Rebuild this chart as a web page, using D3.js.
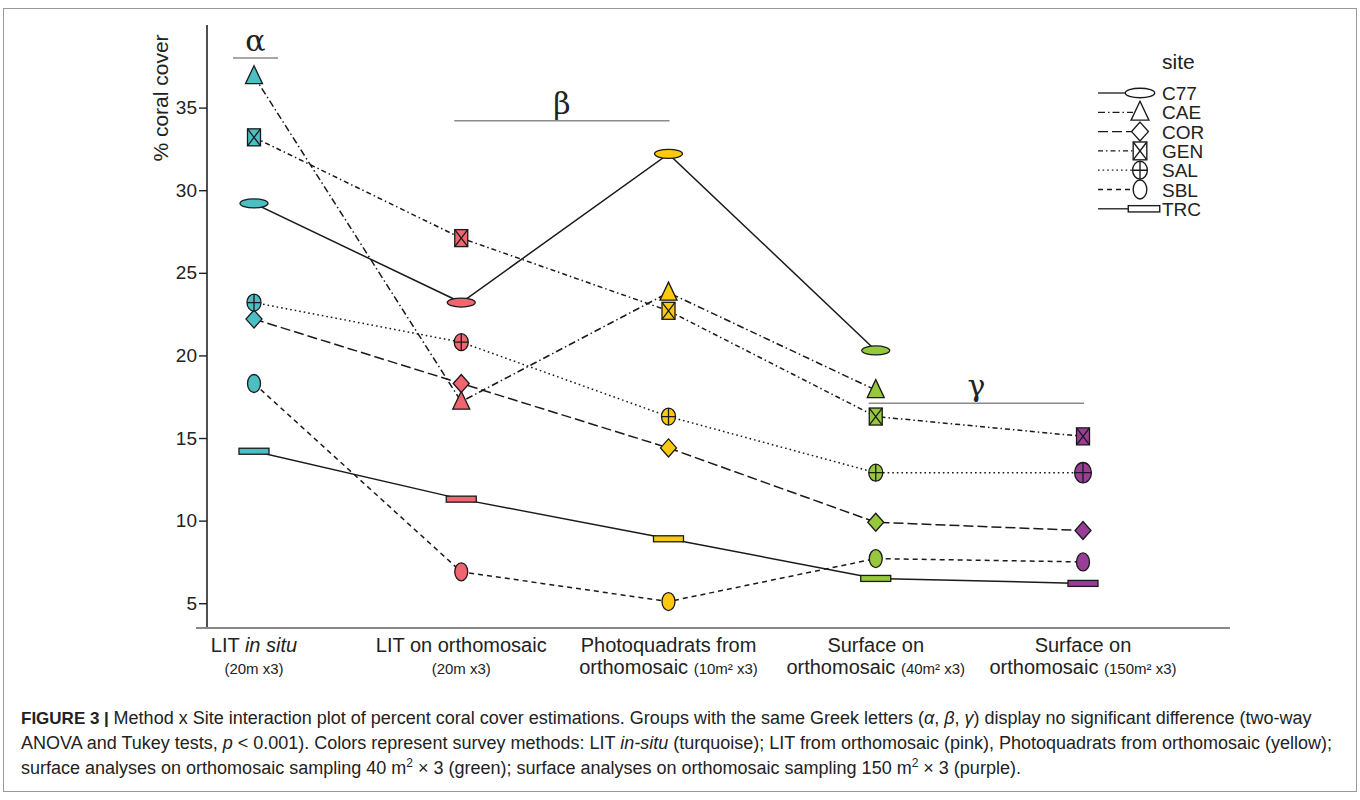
<!DOCTYPE html>
<html>
<head>
<meta charset="utf-8">
<script src="https://cdn.jsdelivr.net/npm/d3@7"></script>
<style>
  body { margin: 0; background: #fff; }
  svg text { font-family: "Liberation Sans", Arial, sans-serif; fill: #222; }
</style>
</head>
<body>
<div id="chart"></div>
<script>
// methods (x axis), in order, and their fill colours
const methods = ['LIT in situ', 'LIT on orthomosaic', 'Photoquadrats from orthomosaic',
                 'Surface on orthomosaic 40', 'Surface on orthomosaic 150'];
const methodColors = ['#4cbfc5', '#ef6670', '#fdc90f', '#96c83d', '#9a3d97'];

// % coral cover per site (null = not sampled)
const sites = ['C77', 'CAE', 'COR', 'GEN', 'SAL', 'SBL', 'TRC'];
const c77 = [29.2, 23.2, 32.2, 20.3, null];
const cae = [36.9, 17.2, 23.8, 17.9, null];
const cor = [22.2, 18.3, 14.4, 9.9, 9.4];
const gen = [33.2, 27.1, 22.7, 16.3, 15.1];
const sal = [23.2, 20.8, 16.3, 12.9, 12.9];
const sbl = [18.3, 6.9, 5.1, 7.7, 7.5];
const trc = [14.2, 11.3, 8.9, 6.5, 6.2];
const siteValues = [c77, cae, cor, gen, sal, sbl, trc];

const yTicks = [5, 10, 15, 20, 25, 30, 35];

// Tukey groups: first method, last method, letter, height of bar (% cover)
const groupFrom = [0, 1, 3];
const groupTo = [0, 2, 4];
const groupLetters = ['α', 'β', 'γ'];
const groupLevel = [38.0, 34.2, 17.1];

const W = 1360, H = 800;
const svg = d3.select('#chart').append('svg').attr('width', W).attr('height', H);

svg.append('rect').attr('x', 3.5).attr('y', 8.5).attr('width', 1353).attr('height', 783)
	.attr('fill', 'none').attr('stroke', '#9a9a9a').attr('stroke-width', 1);

const y = d3.scaleLinear().domain([3.5, 40]).range([628, 25]);
const x = d3.scalePoint().domain(methods).range([254, 1083]);

// line styles per site
const dashes = ['none', '7,3,1.5,3', '10,4', '5,3,1.5,3', '1.6,3', '5,4', 'none'];

// axes
const yAxis = svg.append('g').attr('transform', 'translate(207,0)')
	.call(d3.axisLeft(y).tickValues(yTicks).tickSize(8).tickSizeOuter(0).tickPadding(2));
yAxis.select('.domain').attr('d', `M0,25V628`).attr('stroke', '#222').attr('stroke-width', 1.6);
yAxis.selectAll('.tick line').attr('stroke', '#222').attr('stroke-width', 1.4);
yAxis.selectAll('.tick text').style('font-size', '19px').style('font-family', '"Liberation Sans", Arial, sans-serif').attr('fill', '#222');

svg.append('line').attr('x1', 196).attr('x2', 1230).attr('y1', 628).attr('y2', 628)
	.attr('stroke', '#888').attr('stroke-width', 2);

svg.append('text').attr('transform', 'translate(168,98) rotate(-90)')
	.attr('text-anchor', 'middle').style('font-size', '21px').text('% coral cover');

// category labels
const xlab = svg.append('g').style('font-size', '20px');
function catLabel(i, parts1, parts2) {
	const cx = x(methods[i]);
	const t1 = xlab.append('text').attr('x', cx).attr('y', 652).attr('text-anchor', 'middle');
	parts1.forEach(p => t1.append('tspan').text(p[0]).style('font-style', p[1] || null).style('font-size', p[2] || null));
	const t2 = xlab.append('text').attr('x', cx).attr('y', 674).attr('text-anchor', 'middle');
	parts2.forEach(p => t2.append('tspan').text(p[0]).style('font-style', p[1] || null).style('font-size', p[2] || null));
}
catLabel(0, [['LIT '], ['in situ', 'italic']], [['(20m x3)', null, '15px']]);
catLabel(1, [['LIT on orthomosaic']], [['(20m x3)', null, '15px']]);
catLabel(2, [['Photoquadrats from']], [['orthomosaic '], ['(10m² x3)', null, '15px']]);
catLabel(3, [['Surface on']], [['orthomosaic '], ['(40m² x3)', null, '15px']]);
catLabel(4, [['Surface on']], [['orthomosaic '], ['(150m² x3)', null, '15px']]);

// group bars with Greek letters
groupLetters.forEach((g, i) => {
	const x0 = groupFrom[i] === groupTo[i] ? x(methods[groupFrom[i]]) - 21 : x(methods[groupFrom[i]]) - 7;
	const x1 = groupFrom[i] === groupTo[i] ? x(methods[groupTo[i]]) + 24 : x(methods[groupTo[i]]) + 1;
	svg.append('line').attr('x1', x0).attr('x2', x1).attr('y1', y(groupLevel[i])).attr('y2', y(groupLevel[i]))
		.attr('stroke', '#8a8a8a').attr('stroke-width', 1.6);
	svg.append('text').attr('x', (x0 + x1) / 2).attr('y', y(groupLevel[i]) - 7)
		.attr('text-anchor', 'middle').style('font-family', '"DejaVu Serif", "Liberation Serif", serif')
		.style('font-size', '30px').text(g);
});

// lines
const line = d3.line().defined(d => d.v != null).x(d => x(d.m)).y(d => y(d.v));
sites.forEach((s, si) => {
	const pts = methods.map((m, mi) => ({m: m, v: siteValues[si][mi]}));
	svg.append('path').datum(pts).attr('d', line).attr('fill', 'none')
		.attr('stroke', '#1a1a1a').attr('stroke-width', 1.5)
		.attr('stroke-dasharray', dashes[si]);
});

// marker shapes
function marker(g, si, fill, big) {
	const k = big ? 1.2 : 1;
	const st = {stroke: '#1a1a1a', 'stroke-width': 1.3};
	const apply = sel => { Object.entries(st).forEach(([a, b]) => sel.attr(a, b)); return sel; };
	if (si === 0) apply(g.append('ellipse').attr('rx', 14).attr('ry', 4.5).attr('fill', fill));
	if (si === 1) apply(g.append('path').attr('d', 'M0,-10.5L8.5,7.5L-8.5,7.5Z').attr('fill', fill));
	if (si === 2) apply(g.append('path').attr('d', 'M0,-9L8,0L0,9L-8,0Z').attr('fill', fill));
	if (si === 3) {
		apply(g.append('rect').attr('x', -6.5).attr('y', -8.5).attr('width', 13).attr('height', 17).attr('fill', fill));
		apply(g.append('path').attr('d', 'M-6.5,-8.5L6.5,8.5M6.5,-8.5L-6.5,8.5').attr('fill', 'none'));
	}
	if (si === 4) {
		apply(g.append('ellipse').attr('rx', 7 * k).attr('ry', 8.5 * k).attr('fill', fill));
		apply(g.append('path').attr('d', `M${-7 * k},0H${7 * k}M0,${-8.5 * k}V${8.5 * k}`).attr('fill', 'none'));
	}
	if (si === 5) apply(g.append('ellipse').attr('rx', 6.5).attr('ry', 9).attr('fill', fill));
	if (si === 6) apply(g.append('rect').attr('x', -15).attr('y', -3).attr('width', 30).attr('height', 6).attr('fill', fill));
}

sites.forEach((s, si) => {
	methods.forEach((m, mi) => {
		const v = siteValues[si][mi];
		if (v == null) return;
		const g = svg.append('g').attr('transform', `translate(${x(m)},${y(v)})`);
		marker(g, si, methodColors[mi], mi === 4);
	});
});

// legend
const lg = svg.append('g').attr('transform', 'translate(1098,62)');
lg.append('text').attr('x', 64).attr('y', 7).style('font-size', '21px').text('site');
sites.forEach((s, si) => {
	const ly = 31 + si * 19.3;
	const symX = si === 6 ? 46 : 42;
	const lineEnd = si === 0 ? 29 : si === 6 ? 31 : 35;
	lg.append('line').attr('x1', 0).attr('x2', lineEnd).attr('y1', ly).attr('y2', ly)
		.attr('stroke', '#1a1a1a').attr('stroke-width', 1.3).attr('stroke-dasharray', dashes[si] === 'none' ? null : dashes[si]);
	const g = lg.append('g').attr('transform', `translate(${symX},${ly}) scale(1.05)`);
	marker(g, si, '#fff', false);
	lg.append('text').attr('x', 64).attr('y', ly + 7).style('font-size', '19px').text(s);
});

// caption
const cap = svg.append('g').style('font-size', '18px');
const capLines = [
	[['FIGURE 3 | ', 'b'], ['Method x Site interaction plot of percent coral cover estimations. Groups with the same Greek letters ('], ['α', 'i'], [', '], ['β', 'i'], [', '], ['γ', 'i'], [') display no significant difference (two-way']],
	[['ANOVA and Tukey tests, '], ['p', 'i'], [' < 0.001). Colors represent survey methods: LIT '], ['in-situ', 'i'], [' (turquoise); LIT from orthomosaic (pink), Photoquadrats from orthomosaic (yellow);']],
	[['surface analyses on orthomosaic sampling 40 m'], ['2', 's'], ['  × 3 (green); surface analyses on orthomosaic sampling 150 m'], ['2', 's'], ['  × 3 (purple).']]
];
capLines.forEach((parts, li) => {
	const t = cap.append('text').attr('x', 21).attr('y', 724 + li * 25).attr('fill', '#333');
	parts.forEach((p, pi) => {
		const ts = t.append('tspan').text(p[0]);
		if (p[1] === 'b') ts.style('font-weight', 'bold').style('font-size', '17px').attr('fill', '#222');
		if (p[1] === 'i') ts.style('font-style', 'italic');
		if (p[1] === 's') ts.attr('dy', -7).style('font-size', '12px');
		if (pi > 0 && parts[pi - 1][1] === 's') ts.attr('dy', 7);
	});
});
</script>
</body>
</html>
